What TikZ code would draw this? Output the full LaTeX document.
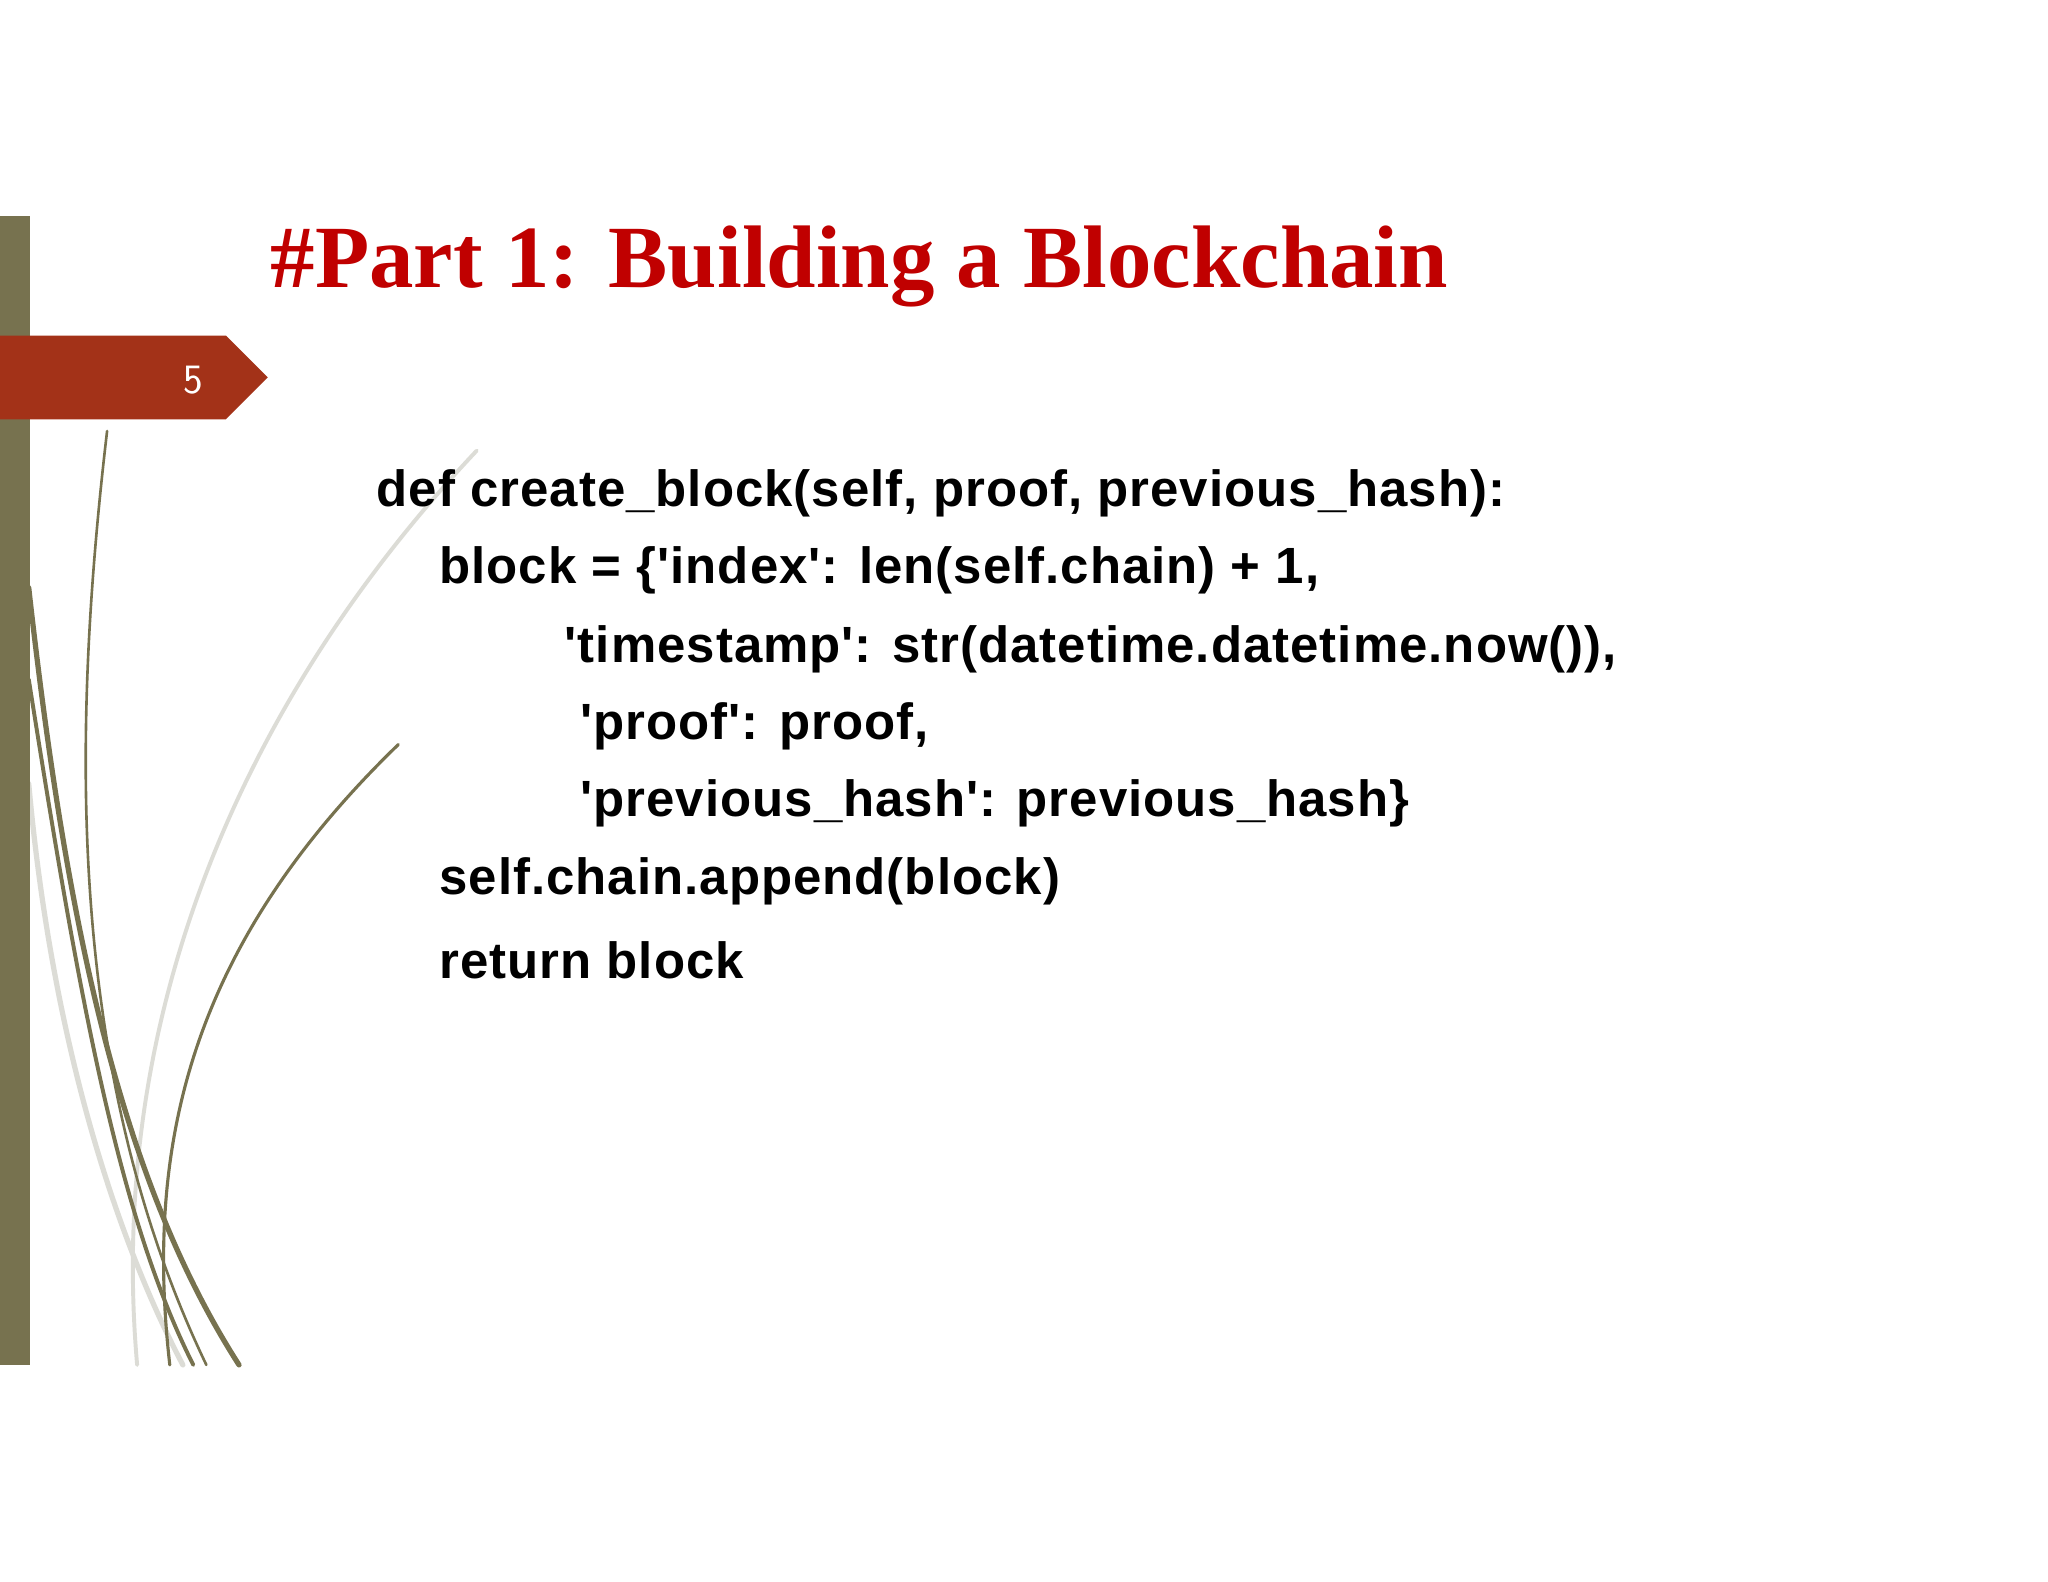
\documentclass[tikz,border=0pt]{standalone}
\usepackage{fontspec}
\setmainfont{Liberation Serif}
\newfontfamily\codefont[LetterSpace=2]{Liberation Sans}
\definecolor{olive}{HTML}{77724F}
\definecolor{tabred}{HTML}{A33218}
\definecolor{titlered}{HTML}{C00000}
\definecolor{lightg}{HTML}{DCDCD6}
\begin{document}
\begin{tikzpicture}[x=0.5pt,y=-0.5pt,
  code/.style={anchor=west,inner sep=0,font=\codefont\bfseries\fontsize{19.5}{22}\selectfont},
  curve/.style={line cap=round}]
\useasboundingbox (0,0) rectangle (1568,1211);
\fill[white] (0,0) rectangle (1568,1211);
% light curves
\draw[curve,lightg,line width=1.5pt] (365,345) .. controls (200,520) and (80,760) .. (105,1045);
\draw[curve,lightg,line width=2pt] (22,600) .. controls (40,800) and (90,950) .. (140,1045);
% olive curves
\draw[curve,olive,line width=1pt] (82,330) .. controls (55,560) and (50,820) .. (158,1045);
\draw[curve,olive,line width=2pt] (22,450) .. controls (50,700) and (90,900) .. (183,1045);
\draw[curve,olive,line width=1.2pt] (305,570) .. controls (150,720) and (110,870) .. (130,1045);
\draw[curve,olive,line width=1.5pt] (22,520) .. controls (60,760) and (90,930) .. (148,1045);
% left bar
\fill[olive] (0,165) rectangle (23,1045);
% tab
\fill[tabred] (0,257) -- (173,257) -- (205,289) -- (173,321) -- (0,321) -- cycle;
\node[white,font=\fontsize{16}{18}\selectfont\sffamily] (num) at (148,291) {5};
% title
\node[anchor=base west,inner sep=0,text=titlered,font=\bfseries\fontsize{34}{36}\selectfont] (title) at (207,220) {\#Part 1: Building a Blockchain};
% code
\node[code] (l1) at (288,378) {def create\_block(self, proof, previous\_hash):};
\node[code] (l2) at (336,437) {block = \{'index': len(self.chain) + 1,};
\node[code] (l3) at (432,497) {'timestamp': str(datetime.datetime.now()),};
\node[code] (l4) at (444,556) {'proof': proof,};
\node[code] (l5) at (444,615) {'previous\_hash': previous\_hash\}};
\node[code] (l6) at (336,675) {self.chain.append(block)};
\node[code] (l7) at (336,735) {return block};
\end{tikzpicture}
\end{document}
